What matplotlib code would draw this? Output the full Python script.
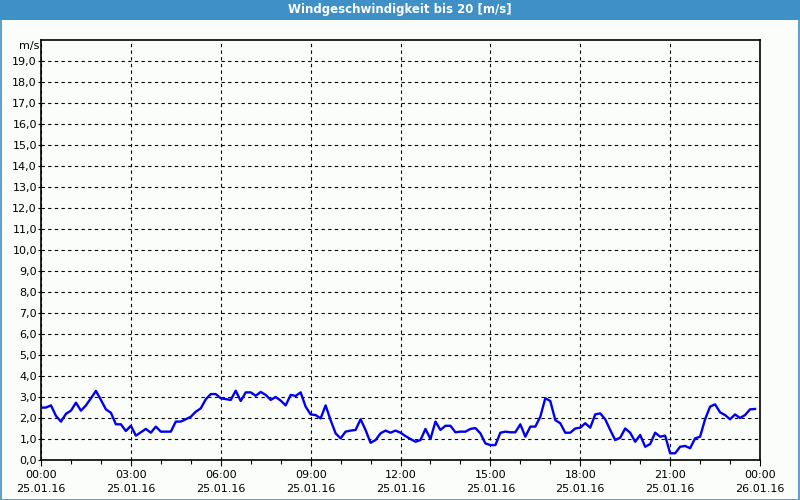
import matplotlib
matplotlib.use("Agg")
import matplotlib.pyplot as plt
from matplotlib.patches import Rectangle
from matplotlib.ticker import MultipleLocator, FixedLocator

# wind speed [m/s], 10 minute values, 25.01.16 00:00 .. 23:50
speed = [
    2.49, 2.5, 2.6, 2.1, 1.83, 2.2, 2.35, 2.73, 2.35, 2.6,
    2.94, 3.29, 2.86, 2.41, 2.25, 1.7, 1.7, 1.38, 1.63, 1.16,
    1.32, 1.48, 1.3, 1.59, 1.35, 1.35, 1.35, 1.83, 1.83, 1.94,
    2.06, 2.3, 2.46, 2.89, 3.14, 3.14, 2.94, 2.9, 2.86, 3.3,
    2.81, 3.22, 3.22, 3.06, 3.24, 3.1, 2.86, 3.0, 2.83, 2.6,
    3.1, 3.05, 3.22, 2.54, 2.17, 2.14, 1.98, 2.6, 1.9, 1.27,
    1.03, 1.35, 1.4, 1.43, 1.94, 1.43, 0.82, 0.95, 1.27, 1.4,
    1.3, 1.4, 1.3, 1.14, 1.0, 0.87, 0.95, 1.48, 1.0, 1.83,
    1.43, 1.63, 1.63, 1.32, 1.35, 1.35, 1.48, 1.52, 1.27, 0.79,
    0.71, 0.71, 1.3, 1.35, 1.32, 1.32, 1.7, 1.11, 1.59, 1.59,
    2.06, 2.94, 2.81, 1.9, 1.75, 1.3, 1.3, 1.5, 1.54, 1.75,
    1.54, 2.17, 2.22, 1.94, 1.43, 0.95, 1.06, 1.5, 1.3, 0.87,
    1.19, 0.63, 0.76, 1.3, 1.11, 1.16, 0.32, 0.32, 0.63, 0.67,
    0.56, 1.03, 1.11, 1.94, 2.54, 2.65, 2.27, 2.14, 1.94, 2.17,
    2.0, 2.14, 2.41, 2.43,
]
hours = [i / 6 for i in range(len(speed))]

tick_hours = [0, 3, 6, 9, 12, 15, 18, 21, 24]
tick_labels = ["00:00\n25.01.16", "03:00\n25.01.16", "06:00\n25.01.16",
               "09:00\n25.01.16", "12:00\n25.01.16", "15:00\n25.01.16",
               "18:00\n25.01.16", "21:00\n25.01.16", "00:00\n26.01.16"]
y_ticks = list(range(0, 20))

bg = "#fbfdfa"
blue_bar = "#3f90c6"

fig = plt.figure(figsize=(8, 5), dpi=100, facecolor=bg)

# title bar and frame
fig.patches.append(Rectangle((0, 1 - 20 / 500), 1, 20 / 500, transform=fig.transFigure,
                             facecolor=blue_bar, edgecolor="none", zorder=0))
fig.patches.append(Rectangle((0.5 / 800, 0.5 / 500), 1 - 1.5 / 800, 1 - 1.5 / 500,
                             transform=fig.transFigure, facecolor="none",
                             edgecolor=blue_bar, linewidth=1.2, zorder=1))
fig.text(0.5, 1 - 10 / 500, "Windgeschwindigkeit bis 20 [m/s]", color="white",
         fontsize=8.5, fontweight="bold", ha="center", va="center")

ax = fig.add_axes([41 / 800, 40 / 500, 719 / 800, 420 / 500])
ax.set_facecolor(bg)
ax.plot(hours, speed, color="#0000ee", linewidth=1.7, zorder=3)

ax.set_xlim(0, 24)
ax.set_ylim(0, 20)
ax.xaxis.set_major_locator(FixedLocator(tick_hours))
ax.xaxis.set_minor_locator(MultipleLocator(1))
ax.set_xticks(tick_hours)
ax.set_xticklabels(tick_labels, fontsize=8, linespacing=1.55)
ax.set_yticks(y_ticks)
ax.set_yticklabels([f"{v},0" for v in y_ticks], fontsize=8)

ax.grid(True, which="major", color="black", linestyle=(0, (3, 3)), linewidth=0.8)
ax.tick_params(axis="x", which="major", length=4, width=0.8, pad=3)
ax.tick_params(axis="x", which="minor", length=3, width=0.8)
ax.tick_params(axis="y", which="major", length=2, width=0.8, pad=1)
for s in ax.spines.values():
    s.set_linewidth(1.2)
    s.set_color("black")

fig.text(39 / 800, 1 - 46 / 500, "m/s", fontsize=8, ha="right", va="center")

fig.savefig("out.png", dpi=100, facecolor=bg)
